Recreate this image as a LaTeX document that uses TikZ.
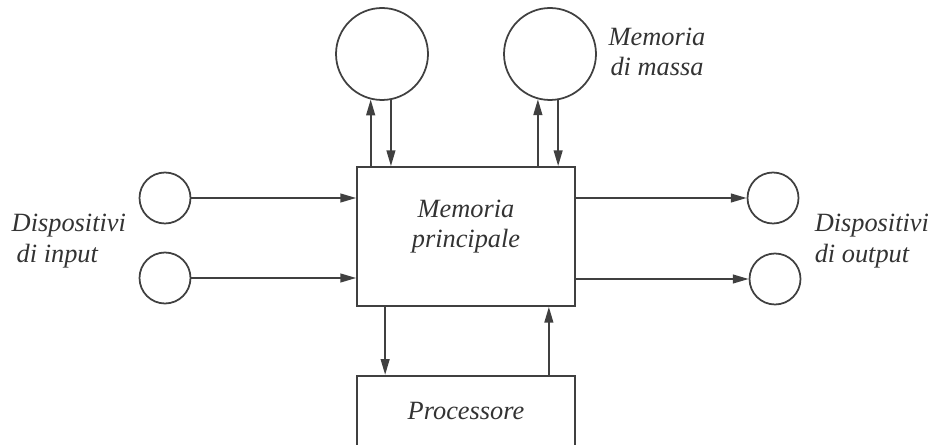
\documentclass[tikz,border=0pt]{standalone}
\usepackage{fontspec}
\setmainfont{Liberation Serif}
\usepackage{tikz}
\usetikzlibrary{positioning,arrows.meta,calc}

\begin{document}
\begin{tikzpicture}
   [x=0.02cm,y=-0.02cm,line width=1pt,draw=black!75,
    box/.style={rectangle,draw=black!75,minimum width=4.36cm},
    disk/.style={circle,draw=black!75,inner sep=0pt,minimum size=1.84cm},
    dev/.style={circle,draw=black!75,inner sep=0pt,minimum size=1.02cm},
    lbl/.style={font=\fontsize{15}{17.5}\selectfont\itshape,text=black!80},
    link/.style={-{Triangle[length=9pt,width=5pt]},draw=black!75}]

\clip (0,0) rectangle (935,445);

\node [box,minimum height=2.78cm] (mem) at (466,236.5) {};
\node [box,minimum height=1.52cm,below=1.36cm of mem] (cpu) {};
\node [lbl,align=center] (lmem) at ([yshift=0.2cm]mem.center) {Memoria\\principale};
\node [lbl] (lcpu) at ([yshift=0.06cm]cpu.center) {Processore};

\node [disk] (disk1) at (382,54) {};
\node [disk] (disk2) at (550,54) {};
\node [dev] (in1) at (165,198) {};
\node [dev] (in2) at (165,278) {};
\node [dev] (out1) at (773,198) {};
\node [dev] (out2) at (775,279) {};

\node [lbl,align=center] (lmassa) at (657,52) {Memoria\\di massa};
\node [lbl,align=left,anchor=west] (lin) at (5,241) {Dispositivi\\\hspace*{0.1cm}di input};
\node [lbl,align=left,anchor=west] (lout) at (808,241) {Dispositivi\\di output};

\draw [link] (mem.north -| disk1.256) -- (disk1.256);
\draw [link] (disk1.281) -- (disk1.281 |- mem.north);
\draw [link] (mem.north -| disk2.255) -- (disk2.255);
\draw [link] (disk2.280) -- (disk2.280 |- mem.north);

\draw [link] (in1.east) -- (in1 -| mem.west);
\draw [link] (in2.east) -- (in2 -| mem.west);
\draw [link] (out1 -| mem.east) -- (out1.west);
\draw [link] (out2 -| mem.east) -- (out2.west);

\draw [link] ([xshift=0.58cm]mem.south west) -- ([xshift=0.58cm]cpu.north west);
\draw [link] ([xshift=-0.54cm]cpu.north east) -- ([xshift=-0.54cm]mem.south east);
\end{tikzpicture}
\end{document}
